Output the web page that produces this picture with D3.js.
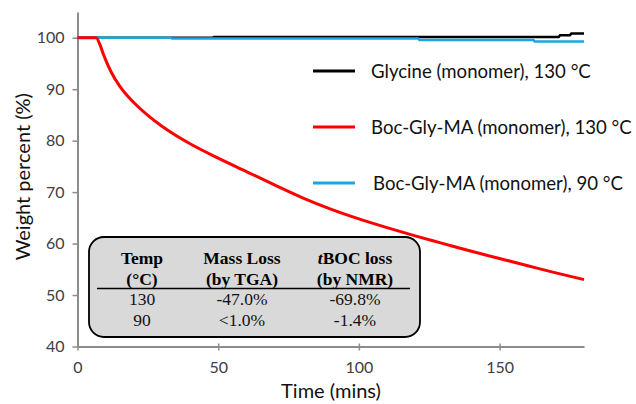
<!DOCTYPE html>
<html>
<head>
<meta charset="utf-8">
<script src="https://cdn.jsdelivr.net/npm/d3@7"></script>
<style>
  body { margin: 0; background: #fff; }
  svg text { font-family: Lato, "Open Sans", sans-serif; }
</style>
</head>
<body>
<div class="canvas"></div>
<script>
// data
const glycineTime = [0, 48, 48.5, 171, 171.5, 175, 175.5, 180];
const glycineVal = [100, 100, 100.15, 100.15, 100.5, 100.5, 100.8, 100.8];

const bocHotTime = [0, 6.6, 8, 9, 10, 12, 15, 20, 25, 30, 35, 40, 50, 60, 70, 80, 90, 100, 110, 120, 130, 140, 150, 160, 170, 180];
const bocHotVal = [100, 100, 98.6, 97.1, 95.7, 93.3, 90.6, 87.4, 84.9, 82.8, 81.0, 79.4, 76.6, 74.0, 71.4, 68.9, 66.7, 64.8, 63.1, 61.5, 60.0, 58.5, 57.1, 55.7, 54.3, 53.0];

const bocColdTime = [0, 33, 33.5, 121, 121.5, 162, 162.5, 180];
const bocColdVal = [100, 100, 99.85, 99.85, 99.55, 99.55, 99.25, 99.25];

const xTicks = [0, 50, 100, 150];
const yTicks = [40, 50, 60, 70, 80, 90, 100];

const legendLabels = ['Glycine (monomer), 130 °C', 'Boc-Gly-MA (monomer), 130 °C', 'Boc-Gly-MA (monomer), 90 °C'];
const colours = ['#000000', '#ff0000', '#1aa7e0'];

const tableHead1 = ['Temp', 'Mass Loss', 'BOC loss'];
const tableHead2 = ['(°C)', '(by TGA)', '(by NMR)'];
const tableRows = [['130', '-47.0%', '-69.8%'], ['90', '<1.0%', '-1.4%']];

const dims = { width: 636, height: 404 };
const margin = { left: 77.5, right: 52, top: 12, bottom: 57.5 };

const svg = d3.select('.canvas')
  .append('svg')
  .attr('width', dims.width)
  .attr('height', dims.height);

const x = d3.scaleLinear().domain([0, 180]).range([margin.left, dims.width - margin.right]);
const y = d3.scaleLinear().domain([40, 105]).range([dims.height - margin.bottom, margin.top]);

// axes
const xAxis = svg.append('g')
  .attr('transform', `translate(0, ${y(40)})`)
  .call(d3.axisBottom(x).tickValues(xTicks).tickSize(4).tickSizeOuter(0).tickPadding(11));

const yAxis = svg.append('g')
  .attr('transform', `translate(${x(0)}, 0)`)
  .call(d3.axisLeft(y).tickValues(yTicks).tickSize(5).tickSizeOuter(0).tickPadding(8));

[xAxis, yAxis].forEach(ax => {
  ax.select('.domain').attr('stroke', '#8c8c8c').attr('stroke-width', 2);
  ax.selectAll('.tick line').attr('stroke', '#8c8c8c').attr('stroke-width', 1.5);
  ax.selectAll('.tick text').attr('fill', '#404040').style('font-size', '16px');
});
xAxis.selectAll('.tick line').attr('y1', -3);

svg.append('text')
  .attr('x', 331).attr('y', 398)
  .attr('text-anchor', 'middle')
  .style('font-size', '20px')
  .attr('fill', '#111')
  .text('Time (mins)');

svg.append('text')
  .attr('transform', `translate(30, ${y(73)}) rotate(-90)`)
  .attr('text-anchor', 'middle')
  .style('font-size', '20px')
  .attr('fill', '#111')
  .text('Weight percent (%)');

// lines
const line = d3.line()
  .x(d => x(d[0]))
  .y(d => y(d[1]));

const series = [
  { t: glycineTime, v: glycineVal, c: colours[0], w: 2.5, curve: d3.curveLinear },
  { t: bocColdTime, v: bocColdVal, c: colours[2], w: 2.5, curve: d3.curveLinear },
  { t: bocHotTime, v: bocHotVal, c: colours[1], w: 3, curve: d3.curveMonotoneX }
];

series.forEach(s => {
  svg.append('path')
    .datum(d3.zip(s.t, s.v))
    .attr('fill', 'none')
    .attr('stroke', s.c)
    .attr('stroke-width', s.w)
    .attr('d', line.curve(s.curve));
});

// legend
const legendGroup = svg.append('g');
legendLabels.forEach((lab, i) => {
  const ly = 71 + i * 56;
  legendGroup.append('line')
    .attr('x1', 313).attr('x2', 355)
    .attr('y1', ly).attr('y2', ly)
    .attr('stroke', colours[i]).attr('stroke-width', 3);
  legendGroup.append('text')
    .attr('x', i === 2 ? 373 : 371).attr('y', ly + 7)
    .style('font-size', '18.6px')
    .attr('fill', '#111')
    .text(lab);
});

// table box
const table = svg.append('g');
table.append('rect')
  .attr('x', 89).attr('y', 237)
  .attr('width', 331).attr('height', 100)
  .attr('rx', 15)
  .attr('fill', '#d9d9d9')
  .attr('stroke', '#000')
  .attr('stroke-width', 1.8);

const colX = [142, 242, 355];
const serif = '"Liberation Serif", "Times New Roman", serif';

tableHead1.forEach((h, i) => {
  const t = table.append('text')
    .attr('x', colX[i]).attr('y', 264)
    .attr('text-anchor', 'middle')
    .style('font-family', serif)
    .style('font-size', '17.5px')
    .style('font-weight', 'bold');
  if (i === 2) {
    t.append('tspan').style('font-style', 'italic').text('t');
    t.append('tspan').text(h);
  } else {
    t.text(h);
  }
});

tableHead2.forEach((h, i) => {
  table.append('text')
    .attr('x', colX[i]).attr('y', 285)
    .attr('text-anchor', 'middle')
    .style('font-family', serif)
    .style('font-size', '17.5px')
    .style('font-weight', 'bold')
    .text(h);
});

table.append('line')
  .attr('x1', 97).attr('x2', 410)
  .attr('y1', 288.5).attr('y2', 288.5)
  .attr('stroke', '#000').attr('stroke-width', 1.3);

tableRows.forEach((row, r) => {
  row.forEach((cell, i) => {
    table.append('text')
      .attr('x', colX[i]).attr('y', 305 + r * 21)
      .attr('text-anchor', 'middle')
      .style('font-family', serif)
      .style('font-size', '17.5px')
      .attr('fill', '#111')
      .text(cell);
  });
});
</script>
</body>
</html>
